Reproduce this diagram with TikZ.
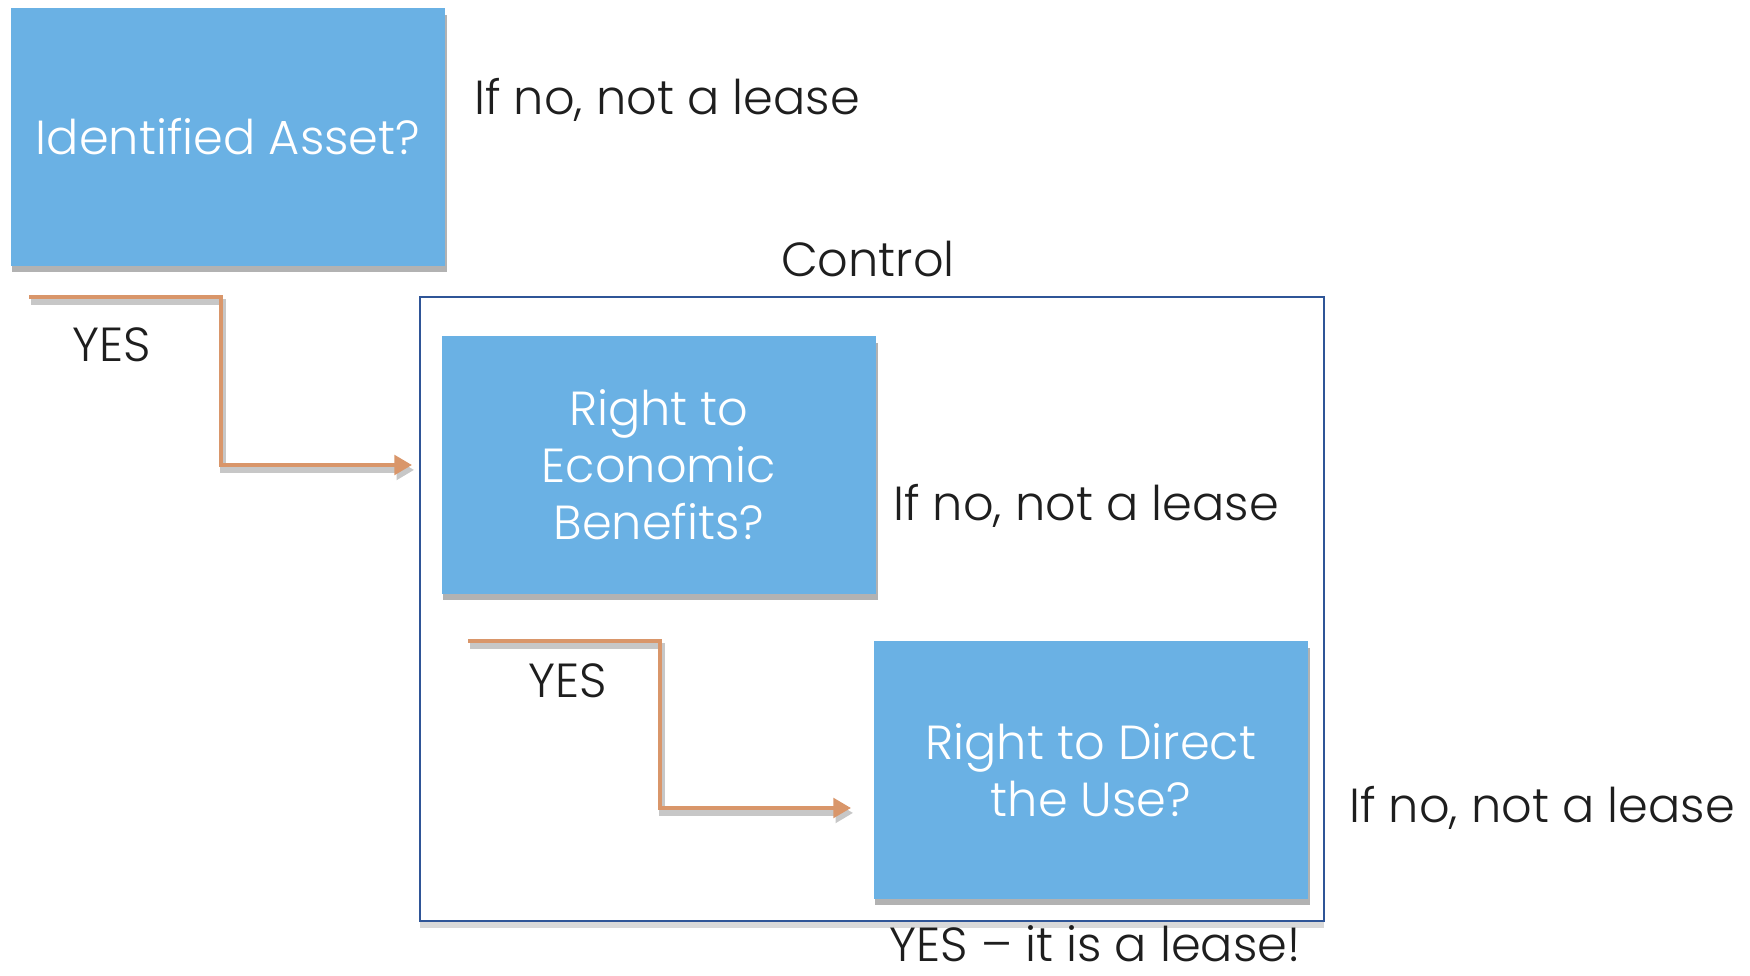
\documentclass[tikz,border=0pt]{standalone}
\usepackage{fontspec}
\setmainfont{Poppins}[UprightFont=*-Light]
\usepackage{tikz}
\usetikzlibrary{positioning, arrows.meta, shadows}

\definecolor{boxblue}{RGB}{106,177,228}
\definecolor{yesorange}{RGB}{217,150,106}
\definecolor{framenavy}{RGB}{47,85,151}
\definecolor{txtdark}{RGB}{30,30,30}

\tikzset{
  question/.style={rectangle, fill=boxblue, text=white, align=center,
    font=\fontsize{13.6}{16.2}\selectfont, inner sep=0pt,
    minimum width=4.34cm, minimum height=2.57cm,
    drop shadow={shadow xshift=0.4pt, shadow yshift=-1.8pt, opacity=0.3, fill=black}},
  answer/.style={text=txtdark, font=\fontsize{13.6}{16.2}\selectfont, inner sep=0pt},
  yesarrow/.style={draw=yesorange, line width=1.15pt,
    -{Triangle[length=5pt, width=5.5pt]},
    preaction={draw=black!22, line width=1.6pt, -{Triangle[length=5pt, width=5.5pt]},
      transform canvas={xshift=0.6pt, yshift=-1.4pt}}}
}

\begin{document}
\begin{tikzpicture}[x=0.01cm, y=-0.01cm]
  \useasboundingbox (0,0) rectangle (1750,976);

  % Identified Asset
  \node (asset) at (228,137) [question] {Identified Asset?};
  \node (no1) at (667,100) [answer] {If no, not a lease};

  % Control frame
  \node (frame) at (872,609) [rectangle, draw=framenavy, line width=0.6pt, fill=white,
    minimum width=9.03cm, minimum height=6.24cm,
    drop shadow={shadow xshift=0pt, shadow yshift=-1.8pt, opacity=0.15, fill=black}] {};
  \node (control) at (868,259) [answer] {Control};

  % Right to Economic Benefits
  \node (econ) at (659,465) [question] {Right to\\Economic\\Benefits?};
  \node (no2) at (1086,506) [answer] {If no, not a lease};

  % Right to Direct the Use
  \node (direct) at (1091,770) [question] {Right to Direct\\the Use?};
  \node (no3) at (1542,808) [answer] {If no, not a lease};
  \node (lease) at (1095,944) [answer] {YES -- it is a lease!};

  % YES arrows
  \coordinate (s1) at (29,297);
  \coordinate (e1) at (412,465);
  \draw[yesarrow] (s1) -| (221,465) -- (e1);
  \node (yes1) at (112,345) [answer] {YES};

  \coordinate (s2) at (468,641);
  \coordinate (e2) at (851,808);
  \draw[yesarrow] (s2) -| (660,808) -- (e2);
  \node (yes2) at (568,681) [answer] {YES};
\end{tikzpicture}
\end{document}
